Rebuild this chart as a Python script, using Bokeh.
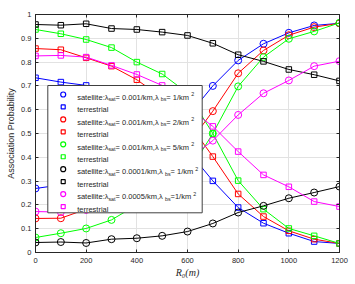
from bokeh.plotting import figure
from bokeh.models import LinearAxis, FixedTicker, Range1d
from bokeh.core.properties import value
from bokeh.embed import file_html
from bokeh.resources import INLINE

# ---------------- data ----------------
r0 = [0, 100, 200, 300, 400, 500, 600, 700, 800, 900, 1000, 1100, 1200]

sat_a = [0.269, 0.284, 0.298, 0.34, 0.40, 0.48, 0.57, 0.70, 0.807, 0.877, 0.923, 0.954, 0.963]
terr_a = [0.734, 0.716, 0.702, 0.66, 0.60, 0.52, 0.43, 0.301, 0.189, 0.123, 0.081, 0.046, 0.038]

sat_b = [0.143, 0.144, 0.182, 0.217, 0.274, 0.35, 0.45, 0.594, 0.753, 0.849, 0.913, 0.947, 0.963]
terr_b = [0.857, 0.852, 0.818, 0.783, 0.726, 0.65, 0.55, 0.403, 0.246, 0.151, 0.091, 0.056, 0.038]

sat_c = [0.063, 0.081, 0.101, 0.137, 0.20, 0.25, 0.33, 0.50, 0.698, 0.821, 0.898, 0.929, 0.965]
terr_c = [0.937, 0.919, 0.895, 0.861, 0.80, 0.75, 0.67, 0.50, 0.302, 0.182, 0.101, 0.07, 0.038]

sat_d = [0.042, 0.044, 0.040, 0.056, 0.060, 0.070, 0.088, 0.122, 0.168, 0.196, 0.228, 0.252, 0.277]
terr_d = [0.958, 0.955, 0.961, 0.941, 0.937, 0.926, 0.912, 0.879, 0.831, 0.803, 0.769, 0.747, 0.721]

sat_e = [0.172, 0.170, 0.179, 0.214, 0.252, 0.30, 0.39, 0.47, 0.578, 0.669, 0.723, 0.783, 0.804]
terr_e = [0.826, 0.828, 0.821, 0.786, 0.748, 0.702, 0.61, 0.53, 0.424, 0.326, 0.276, 0.214, 0.193]

colors = ["#0000ff", "#ff0000", "#00ff00", "#000000", "#ff00ff"]
lam_sat = ["0.001", "0.001", "0.001", "0.0001", "0.0005"]
lam_bs = [" = 1/km", " = 2/km", " = 5/km", " = 1/km", " =1/km"]

x_ticks = [0, 200, 400, 600, 800, 1000, 1200]
y_ticks = [0, 0.1, 0.2, 0.3, 0.4, 0.5, 0.6, 0.7, 0.8, 0.9, 1]
y_labels = ["0", "0.1", "0.2", "0.3", "0.4", "0.5", "0.6", "0.7", "0.8", "0.9", "1"]

# ---------------- figure ----------------
W, H = 355, 284
BL, BR, BT, BB = 35, 16, 14, 32
FW, FH = W - BL - BR, H - BT - BB
TXT = "#262626"
FONT = "Liberation Sans"

p = figure(width=W, height=H, output_backend="svg", toolbar_location=None,
           x_range=Range1d(0, 1200), y_range=Range1d(0, 1),
           min_border_left=BL, min_border_right=BR,
           min_border_top=BT, min_border_bottom=BB)
p.background_fill_color = "white"
p.border_fill_color = "white"
p.outline_line_color = TXT
p.outline_line_width = 1

xb = p.xaxis[0]
yl = p.yaxis[0]
xb.ticker = FixedTicker(ticks=x_ticks)
yl.ticker = FixedTicker(ticks=y_ticks)
yl.major_label_overrides = {t: l for t, l in zip(y_ticks, y_labels)}

top = LinearAxis(ticker=FixedTicker(ticks=x_ticks), axis_label=None)
right = LinearAxis(ticker=FixedTicker(ticks=y_ticks), axis_label=None)
p.add_layout(top, "above")
p.add_layout(right, "right")

for ax in [xb, yl, top, right]:
    ax.major_tick_in = 3
    ax.major_tick_out = 0
    ax.minor_tick_in = 0
    ax.minor_tick_out = 0
    ax.axis_line_color = TXT
    ax.major_tick_line_color = TXT
    ax.major_label_text_font = FONT
    ax.major_label_text_font_size = "7.5px"
    ax.major_label_text_color = TXT
for ax in [top, right]:
    ax.major_label_text_font_size = "1px"
    ax.major_label_text_color = None
    ax.major_label_standoff = 0

xb.major_label_standoff = 5
yl.major_label_standoff = 4

xb.axis_label = "R₀(m)"
xb.axis_label_text_font = "Liberation Serif"
xb.axis_label_text_font_style = "italic"
xb.axis_label_text_font_size = "10px"
xb.axis_label_text_color = TXT
xb.axis_label_standoff = 1

yl.axis_label = "Association Probability"
yl.axis_label_text_font = FONT
yl.axis_label_text_font_style = "normal"
yl.axis_label_text_font_size = "9px"
yl.axis_label_text_color = TXT
yl.axis_label_standoff = 2

p.xgrid.grid_line_color = "#e2e2e2"
p.ygrid.grid_line_color = "#e2e2e2"

# ---------------- series ----------------
series = [(colors[0], sat_a, terr_a), (colors[1], sat_b, terr_b),
          (colors[2], sat_c, terr_c), (colors[3], sat_d, terr_d),
          (colors[4], sat_e, terr_e)]
for col, s, t in series:
    p.line(r0, s, line_color=col, line_width=1)
    p.scatter(r0, s, marker="circle", size=7, fill_color=None, line_color=col, line_width=1)
    p.line(r0, t, line_color=col, line_width=1)
    p.scatter(r0, t, marker="square", size=5.5, fill_color=None, line_color=col, line_width=1)

# ---------------- legend (drawn manually for sub/superscripts) ----------------
FL_PAGE, FT_PAGE = BL, BT


def dx(px):
    return (px - FL_PAGE) / FW * 1200.0


def dy(py):
    return (FT_PAGE + FH - py) / FH * 1.0


AW = {' ': 278, '(': 333, ')': 333, ',': 278, '.': 278, '/': 278, ':': 278, '=': 584,
      'a': 556, 'b': 556, 'e': 556, 'i': 222, 'k': 500, 'l': 222, 'm': 833, 's': 500,
      't': 278, 'λ': 500, 'r': 333, 'n': 556}
for d in "0123456789":
    AW[d] = 556


def tw(s, size):
    return sum(AW.get(c, 556) for c in s) / 1000.0 * size


p.quad(left=[dx(47.3)], right=[dx(201.7)], top=[dy(85)], bottom=[dy(212.3)],
       fill_color="white", line_color="#404040", line_width=1)

MS, SS = 7.5, 5.3
row0, drow = 94.0, 12.45
mx, tx = 62.7, 76.7
big_x, big_y, big_t = [], [], []
sm_x, sm_y, sm_t = [], [], []
for i, col in enumerate(colors):
    yc1 = row0 + drow * (2 * i)
    yc2 = row0 + drow * (2 * i + 1)
    p.scatter([dx(mx)], [dy(yc1)], marker="circle", size=5, fill_color=None,
              line_color=col, line_width=1.2)
    p.scatter([dx(mx)], [dy(yc2)], marker="square", size=4, fill_color=None,
              line_color=col, line_width=1.2)
    base = yc1 + 2.7
    parts = [("satellite:λ", MS, 0), ("sat", SS, 2.0),
             (" = " + lam_sat[i] + "/km,λ", MS, 0), ("bs", SS, 2.0),
             (lam_bs[i], MS, 0), ("2", SS, -3.2)]
    x = tx
    for txt, sz, off in parts:
        if sz == MS:
            big_x.append(dx(x)); big_y.append(dy(base + off)); big_t.append(txt)
        else:
            sm_x.append(dx(x)); sm_y.append(dy(base + off)); sm_t.append(txt)
        x += tw(txt, sz)
    big_x.append(dx(tx)); big_y.append(dy(yc2 + 2.7)); big_t.append("terrestrial")

p.text(x=big_x, y=big_y, text=big_t, text_font=value(FONT), text_font_size=value(f"{MS}px"),
       text_baseline="alphabetic", text_align="left", text_color=TXT)
p.text(x=sm_x, y=sm_y, text=sm_t, text_font=value(FONT), text_font_size=value(f"{SS}px"),
       text_baseline="alphabetic", text_align="left", text_color=TXT)

open("out.html", "w").write(file_html(p, INLINE))
